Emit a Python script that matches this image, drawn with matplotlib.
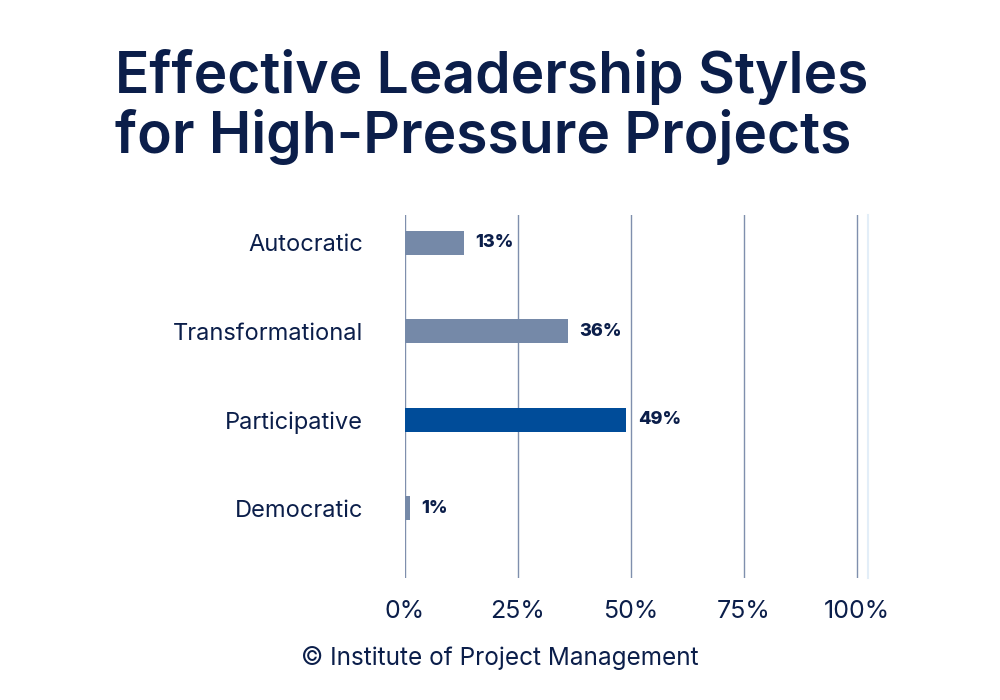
import matplotlib
matplotlib.use("Agg")
import matplotlib.pyplot as plt

categories = ["Autocratic", "Transformational", "Participative", "Democratic"]
values = [13, 36, 49, 1]
value_labels = ["13%", "36%", "49%", "1%"]
highlight = "Participative"
x_ticks = [0, 25, 50, 75, 100]
x_tick_labels = ["0%", "25%", "50%", "75%", "100%"]
title_lines = ["Effective Leadership Styles", "for High-Pressure Projects"]
source = "© Institute of Project Management"

NAVY = "#0B1E4A"
BAR = "#7589A8"
HI = "#004C99"
GRID = "#7F8FAD"

plt.rcParams['font.family'] = ['Inter', 'DejaVu Sans']

fig = plt.figure(figsize=(10, 7), dpi=100)
fig.patch.set_facecolor("white")
ax = fig.add_axes([0.405, 0.174, 0.463, 0.519])

ypos = list(range(len(categories)))
colors = [HI if c == highlight else BAR for c in categories]
ax.barh(ypos, values, height=0.27, color=colors, zorder=3)
for y, v, lab in zip(ypos, values, value_labels):
    ax.text(v + 2.6, y, lab, va="center", ha="left", fontsize=13,
            fontweight="heavy", color=NAVY, zorder=4)

ax.set_xlim(0, 102.5)
ax.set_ylim(3.79, -0.317)
ax.set_xticks(x_ticks)
ax.set_xticklabels(x_tick_labels, fontsize=18, color=NAVY)
ax.set_yticks(ypos)
ax.set_yticklabels(categories, fontsize=17, color=NAVY)
ax.tick_params(axis="both", length=0)
ax.tick_params(axis="x", pad=16)
ax.tick_params(axis="y", pad=30)
for x in x_ticks:
    ax.axvline(x, color=GRID, lw=1, zorder=1)
for s in ["top", "left", "bottom"]:
    ax.spines[s].set_visible(False)
ax.spines["right"].set_color("#E3EEF8")
ax.spines["right"].set_linewidth(1.5)

for i, line in enumerate(title_lines):
    fig.text(0.115, 1 - (93 + 60 * i) / 700, line, fontsize=41,
             fontweight="semibold", color=NAVY, ha="left", va="baseline")
fig.text(0.5, 0.06, source, fontsize=17.5, color=NAVY, ha="center", va="center")

fig.savefig("out.png", dpi=100, facecolor="white")
